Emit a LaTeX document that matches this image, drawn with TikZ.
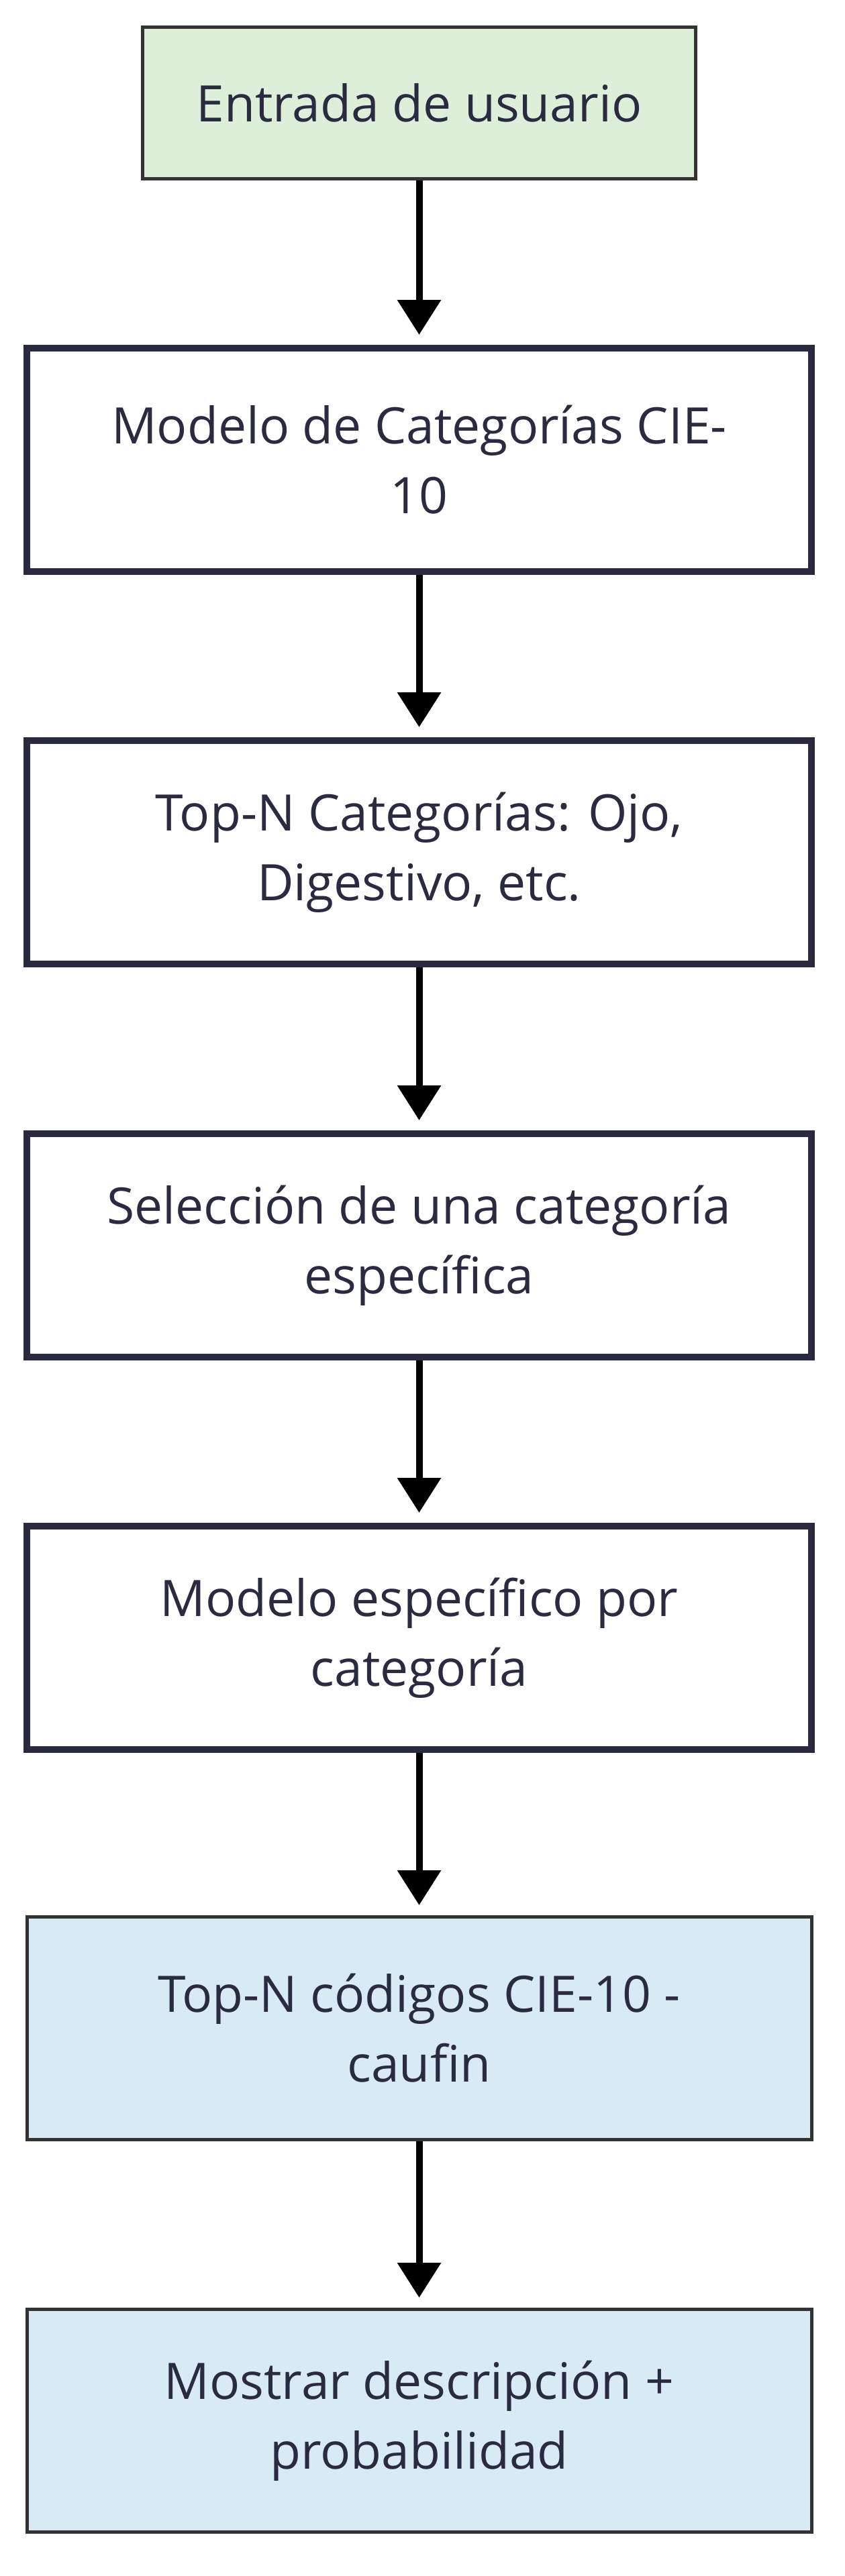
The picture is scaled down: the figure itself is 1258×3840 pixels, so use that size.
\documentclass[tikz,border=0pt]{standalone}
\usepackage{fontspec}
\setmainfont{Open Sans}
\usetikzlibrary{arrows.meta,calc,backgrounds}
\definecolor{txtc}{HTML}{2A2A40}
\definecolor{navy}{HTML}{29293F}
\definecolor{greyb}{HTML}{333333}
\definecolor{greenf}{HTML}{DDEFD9}
\definecolor{bluef}{HTML}{D8EBF5}
\definecolor{shadowc}{HTML}{EFEFEF}
\tikzset{
  x=1pt,y=1pt,
  boxtext/.style={align=center,text=txtc,font=\fontsize{75}{104}\selectfont,inner sep=0pt},
  startbox/.style={boxtext,draw=greyb,line width=5pt,fill=greenf,minimum width=824pt,minimum height=226pt},
  stepbox/.style={boxtext,draw=navy,line width=10pt,fill=white,minimum width=1169pt,minimum height=333pt},
  resultbox/.style={boxtext,draw=greyb,line width=5pt,fill=bluef,minimum width=1169pt,minimum height=332pt},
  flowarrow/.style={draw=black,line width=10pt,-{Triangle[width=63pt,length=52pt]},shorten >=15pt}
}
\begin{document}
\begin{tikzpicture}
\fill[white] (0,0) rectangle (1258,-3840);
\useasboundingbox (0,0) rectangle (1258,-3840);
\node[startbox] (b1) at (624.5,-153.5) {Entrada de usuario};
\node[stepbox] (b2) at (624.5,-685.5) {Modelo de Categorías CIE-\\10};
\node[stepbox] (b3) at (624.5,-1270.5) {Top-N Categorías: Ojo,\\Digestivo, etc.};
\node[stepbox] (b4) at (624.5,-1856.5) {Selección de una categoría\\específica};
\node[stepbox] (b5) at (624.5,-2441.5) {Modelo específico por\\categoría};
\node[resultbox] (b6) at (624.5,-3023.5) {Top-N códigos CIE-10 -\\caufin};
\node[resultbox] (b7) at (624.5,-3608.5) {Mostrar descripción +\\probabilidad};
\begin{scope}[on background layer]
\foreach \b in {b1,b2,b3,b4,b5,b6,b7}{
  \fill[shadowc] ($(\b.north west)+(20,-20)$) rectangle ($(\b.south east)+(20,-20)$);
}
\end{scope}
\draw[flowarrow] (b1) -- (b2);
\draw[flowarrow] (b2) -- (b3);
\draw[flowarrow] (b3) -- (b4);
\draw[flowarrow] (b4) -- (b5);
\draw[flowarrow] (b5) -- (b6);
\draw[flowarrow] (b6) -- (b7);
\end{tikzpicture}
\end{document}
